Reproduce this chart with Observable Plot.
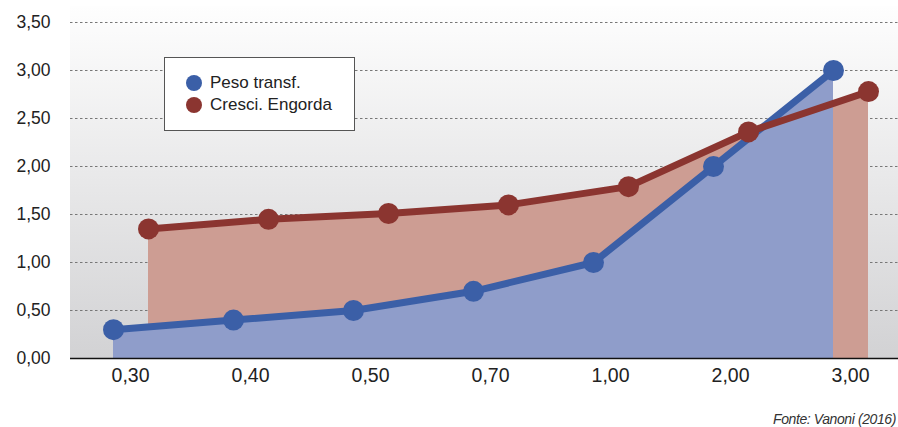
<!DOCTYPE html>
<html><head><meta charset="utf-8">
<script src="https://cdn.jsdelivr.net/npm/d3@7"></script>
<script src="https://cdn.jsdelivr.net/npm/@observablehq/plot@0.6"></script>
<style>
html,body{margin:0;padding:0;background:#fff;overflow:hidden;width:898px;height:427px}
#wrap{position:relative;width:898px;height:427px;overflow:hidden;font-family:"Liberation Sans",Arial,sans-serif}
#bg{position:absolute;left:70px;top:6px;width:840px;height:352px;background:linear-gradient(#fefefe,#d2d2d4)}
#chart{position:absolute;left:0;top:0}
#legend{position:absolute;left:164px;top:57px;width:191px;height:74px;background:#fff;border:1px solid #555;box-sizing:border-box;font-size:17px;color:#222}
#legend .it{position:absolute;left:21px;display:flex;align-items:center;white-space:nowrap;height:20px}
#legend .sw{width:16px;height:16px;border-radius:50%;margin-right:8px}
#cap{position:absolute;right:2px;top:411px;font-size:14px;font-style:italic;color:#333;white-space:nowrap;letter-spacing:-0.4px}
</style></head>
<body><div id="wrap"><div id="bg"></div><div id="chart"></div>
<div id="legend"><div class="it" style="top:15px"><div class="sw" style="background:#3b5fa7"></div>Peso transf.</div>
<div class="it" style="top:37px"><div class="sw" style="background:#8b3530"></div>Cresci. Engorda</div></div>
<div id="cap">Fonte: Vanoni (2016)</div></div>
<script>
const categories = ["0,30","0,40","0,50","0,70","1,00","2,00","3,00"];
const pesoTransf = [0.30,0.40,0.50,0.70,1.00,2.00,3.00];
const cresciEngorda = [1.35,1.45,1.51,1.60,1.79,2.36,2.78];
const yTicks = [0,0.5,1,1.5,2,2.5,3,3.5];

const blue = categories.map((c,i)=>({c, v: pesoTransf[i]}));
const red = categories.map((c,i)=>({c, v: cresciEngorda[i]}));
const fmt = d => d.toFixed(2).replace(".", ",");

const chart = Plot.plot({
  width: 898, height: 400,
  marginLeft: 70, marginRight: 0, marginTop: 22, marginBottom: 42,
  style: {background: "transparent", fontFamily: "Liberation Sans, Arial, sans-serif", fontSize: "17px", color: "#222", overflow: "visible"},
  x: {type: "point", domain: categories, padding: 0.5, range: [70, 910], label: null, axis: null},
  y: {domain: [0, 3.5], label: null, axis: null},
  marks: [
    Plot.ruleY(yTicks.filter(d => d > 0), {stroke: "#777", strokeDasharray: "2.5,2.5", strokeWidth: 1.2}),
    Plot.areaY(red, {x: "c", y: "v", fill: "#cd9d93", dx: 18, curve: "linear"}),
    Plot.areaY(blue, {x: "c", y: "v", fill: "#8f9dca", dx: -17, curve: "linear"}),
    Plot.line(blue, {x: "c", y: "v", stroke: "#3b5fa7", strokeWidth: 7, dx: -17}),
    Plot.dot(blue, {x: "c", y: "v", fill: "#3b5fa7", r: 10.5, dx: -17}),
    Plot.line(red, {x: "c", y: "v", stroke: "#8b3530", strokeWidth: 7, dx: 18}),
    Plot.dot(red, {x: "c", y: "v", fill: "#8b3530", r: 10.5, dx: 18}),
    Plot.ruleY([0], {stroke: "#111", strokeWidth: 1.5}),
    Plot.text(yTicks, {y: d => d, text: fmt, frameAnchor: "left", textAnchor: "end", dx: -20, fontSize: 17.5, fill: "#222"}),
    Plot.text(categories, {x: d => d, text: d => d, frameAnchor: "bottom", dy: 23, fontSize: 19.5, fill: "#222"})
  ]
});
document.getElementById("chart").appendChild(chart);
</script></body></html>
